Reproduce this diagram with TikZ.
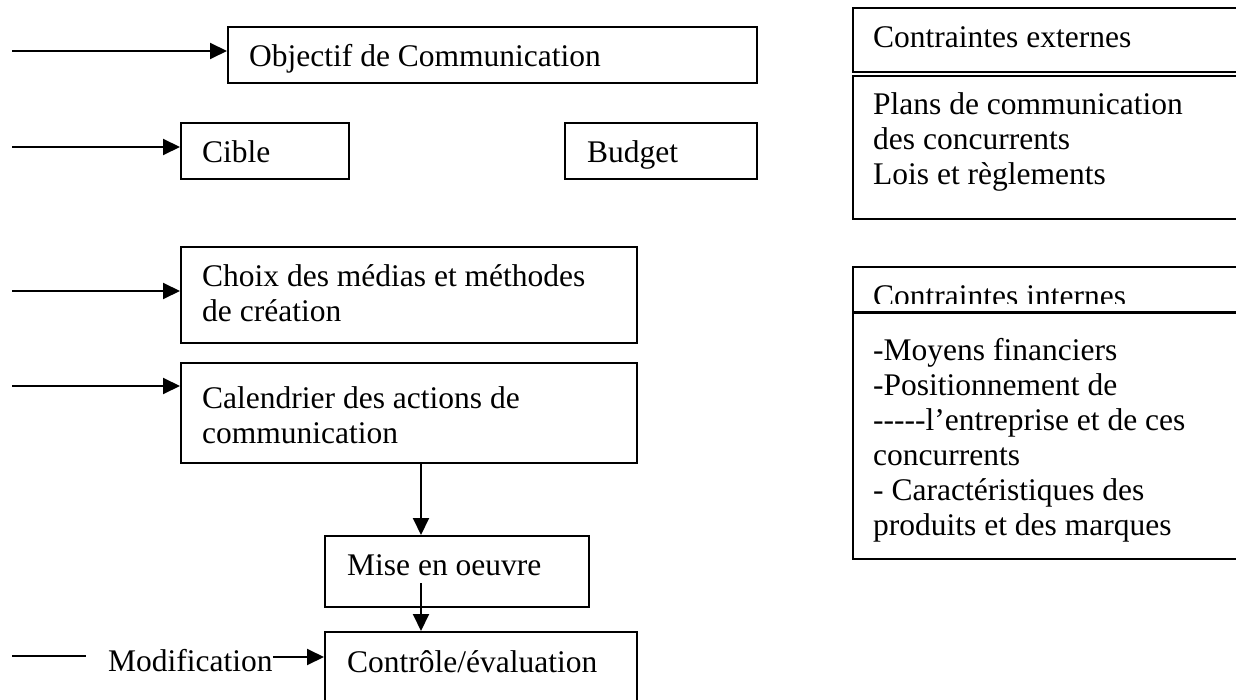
\documentclass[tikz,border=0pt]{standalone}
\usepackage{fontspec}
\setmainfont{Liberation Serif}
\usetikzlibrary{arrows.meta}

\newcommand{\plantxt}{\fontsize{31.5}{35}\selectfont}

\begin{document}
\begin{tikzpicture}[x=1pt, y=-1pt,
    box/.style={draw, line width=2pt, inner sep=0pt},
    txt/.style={anchor=base west, inner sep=0pt, align=left, font=\plantxt},
    arr/.style={line width=2pt, -{Triangle[length=17pt,width=16pt]}}]
        \useasboundingbox (0,0) rectangle (1236,700);

        % boxes on the left
        \node[box, minimum width=529, minimum height=56] (obj) at (492.5, 55) {};
        \node[box, minimum width=168, minimum height=56] (cible) at (265, 151) {};
        \node[box, minimum width=192, minimum height=56] (budget) at (661, 151) {};
        \node[box, minimum width=456, minimum height=96] (choix) at (409, 295) {};
        \node[box, minimum width=456, minimum height=100] (cal) at (409, 413) {};
        \node[box, minimum width=264, minimum height=71] (mise) at (457, 571.5) {};
        \node[box, minimum width=312, minimum height=80] (ctrl) at (481, 672) {};

        % (multi-line texts sit on their last baseline)
        \node[txt] (objt) at (249, 67) {Objectif de Communication};
        \node[txt] (ciblet) at (202, 163) {Cible};
        \node[txt] (budgett) at (587, 163) {Budget};
        \node[txt] (choixt) at (202, 322) {Choix des médias et méthodes\\de création};
        \node[txt] (calt) at (202, 443) {Calendrier des actions de\\communication};
        \node[txt] (miset) at (347, 575) {Mise en oeuvre};
        \node[txt] (ctrlt) at (347, 672) {Contrôle/évaluation};
        \node[txt] (mod) at (108, 671) {Modification};

        % boxes on the right
        \node[box, minimum width=397, minimum height=64] (exthd) at (1051.5, 40) {};
        \node[box, minimum width=397, minimum height=143] (ext) at (1051.5, 147.5) {};
        \node[box, minimum width=397, minimum height=45] (inthd) at (1051.5, 289.5) {};
        \node[box, minimum width=397, minimum height=246] (int) at (1051.5, 436) {};

        \node[txt] (exthdt) at (873, 48) {Contraintes externes};
        \node[txt] (extt) at (873, 185) {Plans de communication\\des concurrents\\Lois et règlements};
        \begin{scope}
                \clip (853, 267) rectangle (1240, 304);
                \node[txt] (inthdt) at (873, 307) {Contraintes internes};
        \end{scope}
        \node[txt] (intt) at (873, 535) {-Moyens financiers\\-Positionnement de\\-{}-{}-{}-{}-l’entreprise et de ces\\concurrents\\- Caractéristiques des\\produits et des marques};

        % arrows
        \coordinate (a1) at (12, 51);
        \coordinate (a2) at (12, 147);
        \coordinate (a3) at (12, 291);
        \coordinate (a4) at (12, 386);
        \coordinate (m0) at (12, 656);
        \coordinate (m1) at (86, 656);
        \coordinate (vx) at (421, 583);

        \draw[arr] (a1) -- (a1 -| obj.west);
        \draw[arr] (a2) -- (a2 -| cible.west);
        \draw[arr] (a3) -- (a3 -| choix.west);
        \draw[arr] (a4) -- (a4 -| cal.west);
        \draw[line width=2pt] (m0) -- (m1);
        \draw[arr] (mod.east |- 0, 657) -- (ctrl.west |- 0, 657);
        \draw[arr] (cal.south -| vx) -- (mise.north -| vx);
        \draw[arr] (vx) -- (ctrl.north -| vx);
\end{tikzpicture}
\end{document}
